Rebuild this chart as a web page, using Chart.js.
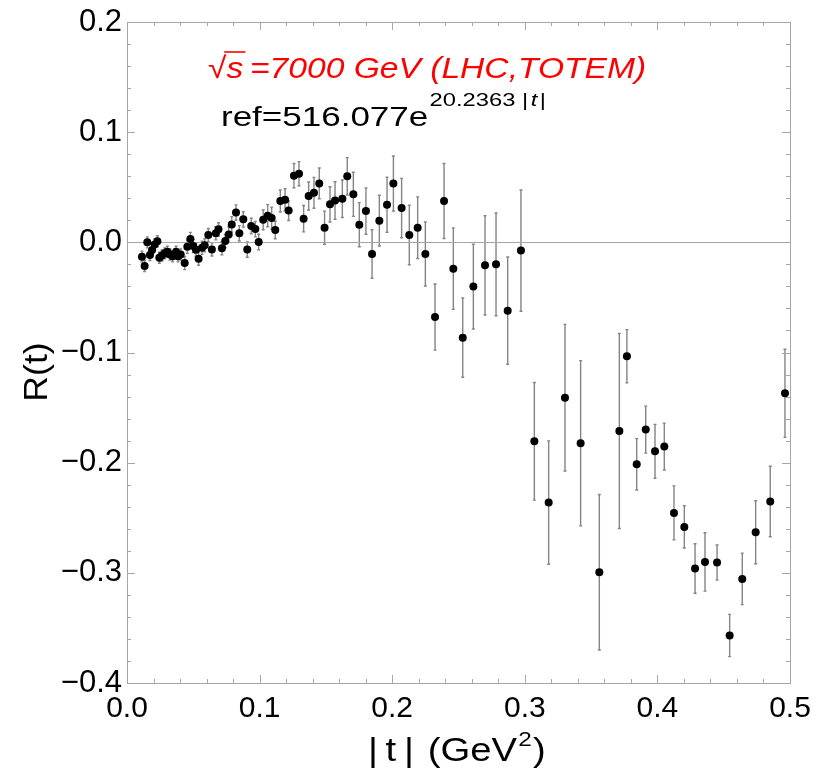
<!DOCTYPE html>
<html>
<head>
<meta charset="utf-8">
<script src="https://cdn.jsdelivr.net/npm/chart.js@4.4.1/dist/chart.umd.min.js"></script>
<style>
  html, body { margin: 0; padding: 0; background: #fff; }
  #box { width: 815px; height: 774px; }
</style>
</head>
<body>
<div id="box"><canvas id="ratio" width="815" height="774"></canvas></div>
<script>
'use strict';
// |t| in GeV^2
const tVals = [
  0.0113, 0.0133, 0.0153, 0.0173, 0.0189, 0.0209, 0.0229, 0.0244, 0.0264, 0.0284,
  0.0304, 0.0324, 0.0344, 0.0370, 0.0385, 0.0405, 0.0435, 0.0455, 0.0478, 0.0500,
  0.0520, 0.0540, 0.0566, 0.0586, 0.0613, 0.0640, 0.0670, 0.0690, 0.0716, 0.0741,
  0.0767, 0.0790, 0.0822, 0.0847, 0.0877, 0.0907, 0.0937, 0.0968, 0.0993,
  0.1027, 0.1061, 0.1091, 0.1118, 0.1156, 0.1192, 0.1219, 0.1259, 0.1297, 0.1332,
  0.1370, 0.1410, 0.1450, 0.1490, 0.1531, 0.1569, 0.1624, 0.1661, 0.1707, 0.1752,
  0.1802, 0.1848, 0.1903, 0.1961, 0.2009,
  0.2071, 0.2129, 0.2192, 0.2250, 0.2323, 0.2391, 0.2461, 0.2532, 0.2612, 0.2700,
  0.2783, 0.2871, 0.2971,
  0.3072, 0.3180, 0.3303, 0.3421, 0.3562, 0.3713, 0.3770, 0.3844, 0.3912, 0.3982,
  0.4052, 0.4125, 0.4203, 0.4284, 0.4359, 0.4450, 0.4545, 0.4640, 0.4741, 0.4851,
  0.4962
];
// R(t)
const rVals = [
  -0.0130, -0.0215, 0.0000, -0.0115, -0.0070, -0.0020, 0.0010, -0.0140, -0.0120, -0.0100,
  -0.0085, -0.0110, -0.0127, -0.0085, -0.0127, -0.0110, -0.0188, -0.0040, 0.0030, -0.0033,
  -0.0067, -0.0148, -0.0049, -0.0027, 0.0066, -0.0064, 0.0082, 0.0118, -0.0054, 0.0012,
  0.0070, 0.0163, 0.0270, 0.0082, 0.0209, -0.0066, 0.0148, 0.0120, 0.0003,
  0.0204, 0.0242, 0.0220, 0.0112, 0.0375, 0.0387, 0.0288, 0.0605, 0.0623, 0.0215,
  0.0420, 0.0450, 0.0535, 0.0133, 0.0345, 0.0380, 0.0396, 0.0599, 0.0436, 0.0160,
  0.0284, -0.0106, 0.0197, 0.0342, 0.0534,
  0.0311, 0.0066, 0.0133, -0.0106, -0.0678, 0.0375, -0.0239, -0.0865, -0.0402, -0.0209,
  -0.0200, -0.0620, -0.0075,
  -0.1806, -0.2362, -0.1410, -0.1824, -0.2995, -0.1712, -0.1034, -0.2015, -0.1700, -0.1897,
  -0.1854, -0.2456, -0.2583, -0.2961, -0.2901, -0.2907, -0.3569, -0.3055, -0.2632, -0.2353,
  -0.1370
];
// error on R(t)
const rErr = [
  0.005, 0.005, 0.005, 0.005, 0.005, 0.005, 0.005, 0.005, 0.005, 0.005,
  0.005, 0.005, 0.005, 0.005, 0.005, 0.005, 0.006, 0.006, 0.006, 0.006,
  0.006, 0.006, 0.006, 0.006, 0.006, 0.006, 0.006, 0.006, 0.006, 0.006,
  0.007, 0.007, 0.007, 0.007, 0.007, 0.007, 0.007, 0.007, 0.007,
  0.009, 0.010, 0.010, 0.008, 0.010, 0.010, 0.009, 0.011, 0.011, 0.012,
  0.0127, 0.014, 0.014, 0.015, 0.016, 0.017, 0.017, 0.017, 0.020, 0.020,
  0.021, 0.022, 0.023, 0.025, 0.025,
  0.027, 0.027, 0.028, 0.029, 0.030, 0.034, 0.037, 0.036, 0.0385, 0.045,
  0.0466, 0.0487, 0.055,
  0.0534, 0.056, 0.0665, 0.075, 0.0706, 0.0886, 0.0242, 0.0233, 0.0213, 0.0245,
  0.0213, 0.0245, 0.0192, 0.0225, 0.0265, 0.0159, 0.0192, 0.0234, 0.0286, 0.032,
  0.040
];
const xMajor = [0, 0.1, 0.2, 0.3, 0.4, 0.5];
const yMajor = [-0.4, -0.3, -0.2, -0.1, 0, 0.1, 0.2];
const minorStep = 0.02;

const FONT = '"Liberation Sans", Arial, sans-serif';
const points = tVals.map((t, i) => ({ x: t, y: rVals[i] }));

function fmt(v){
  if (Math.abs(v) < 1e-9) return '0.0';
  const s = Math.abs(v).toFixed(1);
  return v < 0 ? '\u2212' + s : s;
}

// draw a run of text pieces stretched horizontally by sx
function wideText(ctx, x, sx, draw){
  ctx.save();
  ctx.translate(x, 0);
  ctx.scale(sx, 1);
  draw();
  ctx.restore();
}

// vertical error bars under the dots
const errorBars = {
  id: 'errorBars',
  beforeDatasetsDraw(chart){
    const ctx = chart.ctx;
    const xs = chart.scales.x, ys = chart.scales.y;
    ctx.save();
    ctx.strokeStyle = '#858585';
    ctx.lineWidth = 1.4;
    for (let i = 0; i < tVals.length; i++){
      const px = xs.getPixelForValue(tVals[i]);
      const top = ys.getPixelForValue(rVals[i] + rErr[i]);
      const bot = ys.getPixelForValue(rVals[i] - rErr[i]);
      ctx.beginPath();
      ctx.moveTo(px, top); ctx.lineTo(px, bot);
      ctx.moveTo(px - 1.5, top); ctx.lineTo(px + 1.5, top);
      ctx.moveTo(px - 1.5, bot); ctx.lineTo(px + 1.5, bot);
      ctx.stroke();
    }
    ctx.restore();
  }
};

// frame, inward ticks, zero line and the text
const frame = {
  id: 'frame',
  beforeDatasetsDraw(chart){
    const ctx = chart.ctx, a = chart.chartArea;
    const ys = chart.scales.y;
    ctx.save();
    ctx.strokeStyle = '#a6a6a6';
    ctx.lineWidth = 1;
    const y0 = Math.round(ys.getPixelForValue(0)) + 0.5;
    ctx.beginPath();
    ctx.moveTo(a.left, y0); ctx.lineTo(a.right, y0);
    ctx.stroke();
    ctx.restore();
  },
  afterDraw(chart){
    const ctx = chart.ctx, a = chart.chartArea;
    const xs = chart.scales.x, ys = chart.scales.y;
    ctx.save();
    ctx.strokeStyle = '#a6a6a6';
    ctx.lineWidth = 1;
    ctx.strokeRect(a.left + 0.5, a.top + 0.5, a.right - a.left, a.bottom - a.top);
    ctx.beginPath();
    for (let v = 0; v <= 0.5 + 1e-9; v += minorStep){
      const major = xMajor.some(m => Math.abs(m - v) < 1e-9);
      const len = major ? 8 : 4;
      const px = Math.round(xs.getPixelForValue(v)) + 0.5;
      ctx.moveTo(px, a.bottom); ctx.lineTo(px, a.bottom - len);
      ctx.moveTo(px, a.top); ctx.lineTo(px, a.top + len);
    }
    for (let v = -0.4; v <= 0.2 + 1e-9; v += minorStep){
      const major = yMajor.some(m => Math.abs(m - v) < 1e-9);
      const len = major ? 8 : 4;
      const py = Math.round(ys.getPixelForValue(v)) + 0.5;
      ctx.moveTo(a.left, py); ctx.lineTo(a.left + len, py);
      ctx.moveTo(a.right, py); ctx.lineTo(a.right - len, py);
    }
    ctx.stroke();

    // axis titles
    ctx.fillStyle = '#000';
    ctx.textBaseline = 'middle';
    ctx.font = '33px ' + FONT;
    ctx.save();
    ctx.translate(38, 372);
    ctx.rotate(-Math.PI / 2);
    ctx.scale(1.08, 1);
    ctx.textAlign = 'center';
    ctx.fillText('R(t)', 0, 0);
    ctx.restore();

    ctx.textAlign = 'left';
    ctx.textBaseline = 'alphabetic';
    const base = 761;
    wideText(ctx, 368, 1.16, () => {
      let x = 0;
      ctx.font = '33px ' + FONT;
      ctx.fillText('|\u2009t\u2009|', x, base);
      x += ctx.measureText('|\u2009t\u2009|').width + 12;
      ctx.fillText('(GeV', x, base);
      x += ctx.measureText('(GeV').width;
      ctx.font = '21px ' + FONT;
      ctx.fillText('2', x + 1, base - 15);
      x += ctx.measureText('2').width + 2;
      ctx.font = '33px ' + FONT;
      ctx.fillText(')', x, base);
    });

    // energy label
    ctx.fillStyle = '#ff0000';
    ctx.strokeStyle = '#ff0000';
    const b1 = 78;
    wideText(ctx, 208, 1.12, () => {
      ctx.font = 'italic 30px ' + FONT;
      let x = 0;
      ctx.fillText('\u221A', x, b1);
      x += ctx.measureText('\u221A').width;
      ctx.fillText('s', x, b1);
      const sw = ctx.measureText('s').width;
      ctx.lineWidth = 1.6;
      ctx.beginPath();
      ctx.moveTo(x - 2, b1 - 26); ctx.lineTo(x + sw + 2, b1 - 26);
      ctx.stroke();
      x += sw + 6;
      ctx.fillText('=7000 GeV (LHC,TOTEM)', x, b1);
    });

    // reference fit label
    ctx.fillStyle = '#000';
    const b2 = 126;
    wideText(ctx, 221, 1.25, () => {
      ctx.font = '28px ' + FONT;
      let x = 0;
      ctx.fillText('ref=516.077e', x, b2);
      x += ctx.measureText('ref=516.077e').width + 1;
      ctx.font = '19px ' + FONT;
      ctx.fillText('20.2363 |', x, b2 - 20);
      x += ctx.measureText('20.2363 |').width + 2;
      ctx.font = 'italic 19px ' + FONT;
      ctx.fillText('t', x, b2 - 20);
      x += ctx.measureText('t').width + 2;
      ctx.font = '19px ' + FONT;
      ctx.fillText('|', x, b2 - 20);
    });
    ctx.restore();
  }
};

new Chart(document.getElementById('ratio'), {
  type: 'scatter',
  data: {
    datasets: [{
      data: points,
      pointRadius: 4,
      pointHoverRadius: 4,
      backgroundColor: '#000',
      borderWidth: 0
    }]
  },
  options: {
    responsive: false,
    animation: false,
    devicePixelRatio: 1,
    layout: { padding: { left: 0, right: 25, top: 22, bottom: 0 } },
    plugins: { legend: { display: false }, tooltip: { enabled: false } },
    scales: {
      x: {
        type: 'linear', min: 0, max: 0.5,
        grid: { display: false, drawTicks: false },
        border: { display: false },
        afterFit(scale){
          scale.height = 91;
          scale.paddingLeft = 0;
          scale.paddingRight = 0;
        },
        afterBuildTicks(scale){ scale.ticks = xMajor.map(v => ({ value: v })); },
        ticks: {
          callback: v => fmt(v),
          font: { family: FONT, size: 30 },
          color: '#000',
          padding: 8,
          maxRotation: 0,
          autoSkip: false
        }
      },
      y: {
        type: 'linear', min: -0.4, max: 0.2,
        grid: { display: false, drawTicks: false },
        border: { display: false },
        afterFit(scale){
          scale.width = 127;
          scale.paddingTop = 0;
          scale.paddingBottom = 0;
        },
        afterBuildTicks(scale){ scale.ticks = yMajor.map(v => ({ value: v })); },
        ticks: {
          callback: v => fmt(v),
          font: { family: FONT, size: 31 },
          color: '#000',
          padding: 5,
          autoSkip: false
        }
      }
    }
  },
  plugins: [errorBars, frame]
});
</script>
</body>
</html>
